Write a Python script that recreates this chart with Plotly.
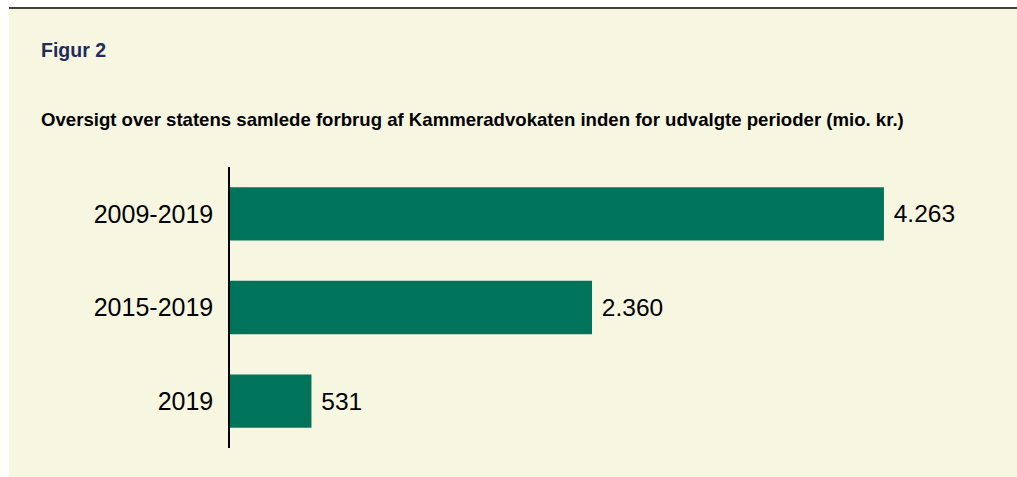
import plotly.graph_objects as go

categories = ["2009-2019", "2015-2019", "2019"]
values = [4263, 2360, 531]
value_labels = ["4.263", "2.360", "531"]

W, H = 1017, 477
L, R, T, B = 230, 27, 167, 29
pw, ph = W - L - R, H - T - B

def px(x):
    return (x - L) / pw

def py(y):
    return (H - B - y) / ph

cream = "#F7F6E0"
green = "#00735B"
FONT = "Liberation Sans, Arial, sans-serif"

fig = go.Figure(go.Bar(
    y=categories, x=values, orientation="h",
    marker=dict(color=green, line=dict(width=0)),
    width=0.57,
    text=[" " + v for v in value_labels], textposition="outside", cliponaxis=False,
    textfont=dict(family=FONT, size=24.5, color="#000000"),
))

fig.update_layout(
    width=W, height=H,
    margin=dict(l=L, r=R, t=T, b=B, autoexpand=False),
    paper_bgcolor="white", plot_bgcolor=cream,
    showlegend=False,
    font=dict(family=FONT, color="#000000"),
    xaxis=dict(range=[0, pw / 0.1534], visible=False, fixedrange=True),
    yaxis=dict(categoryorder="array", categoryarray=categories[::-1],
               range=[-0.5, 2.5], showline=True, linecolor="#000000", linewidth=1.5,
               ticks="", showgrid=False, zeroline=False, fixedrange=True,
               tickfont=dict(size=25, color="#000000"), ticklabelstandoff=10),
    shapes=[
        dict(type="rect", xref="paper", yref="paper", layer="below",
             x0=px(9), x1=px(W + 5), y0=py(H + 5), y1=py(9),
             fillcolor=cream, line=dict(width=0)),
        dict(type="line", xref="paper", yref="paper",
             x0=px(9), x1=px(W + 5), y0=py(8), y1=py(8),
             line=dict(color="#000000", width=1.5)),
    ],
    annotations=[
        dict(text="<b>Figur 2</b>", xref="paper", yref="paper", x=px(39), y=py(50),
             xanchor="left", yanchor="middle", showarrow=False,
             font=dict(size=19.5, color="#1F2C5F")),
        dict(text="<b>Oversigt over statens samlede forbrug af Kammeradvokaten inden for udvalgte perioder (mio. kr.)</b>",
             xref="paper", yref="paper", x=px(39), y=py(119),
             xanchor="left", yanchor="middle", showarrow=False,
             font=dict(size=18.6, color="#000000")),
    ],
)

fig.write_html("out.html", config={"displayModeBar": False},
               post_script="document.body.style.margin='0';document.body.style.overflow='hidden';")
